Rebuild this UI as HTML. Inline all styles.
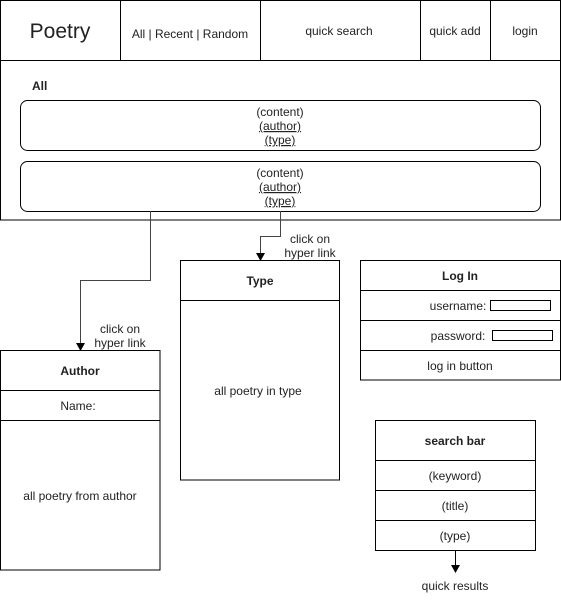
<!DOCTYPE html>
<html><head><style>body{margin:0;background:#fff}svg{display:block}text{font-family:"Liberation Sans",sans-serif;font-size:12px;fill:#222}</style></head><body>
<svg width="561" height="601" viewBox="0 0 561 601">
<g fill="none" stroke="#000" stroke-width="1">
<rect x="0.5" y="0.5" width="560" height="219.5"/>
<line x1="0" y1="60.5" x2="561" y2="60.5"/>
<line x1="120.5" y1="0" x2="120.5" y2="60"/>
<line x1="260.5" y1="0" x2="260.5" y2="60"/>
<line x1="420.5" y1="0" x2="420.5" y2="60"/>
<line x1="490.5" y1="0" x2="490.5" y2="60"/>
<rect x="20.5" y="100.5" width="520" height="50" rx="7"/>
<rect x="20.5" y="161.5" width="520" height="50" rx="7"/>
<polyline points="150.5,211 150.5,280.5 80.5,280.5 80.5,343" stroke="#444"/>
<polyline points="280.5,211 280.5,236.5 260.5,236.5 260.5,253" stroke="#444"/>
<rect x="180.5" y="260.5" width="159" height="219.5"/>
<line x1="180" y1="300.5" x2="340" y2="300.5"/>
<rect x="0.5" y="350.5" width="159.5" height="219.5"/>
<line x1="0" y1="390.5" x2="160" y2="390.5"/>
<line x1="0" y1="420.5" x2="160" y2="420.5"/>
<rect x="360.5" y="260.5" width="200" height="119.5"/>
<line x1="360" y1="290.5" x2="561" y2="290.5"/>
<line x1="360" y1="320.5" x2="561" y2="320.5"/>
<line x1="360" y1="350.5" x2="561" y2="350.5"/>
<rect x="490.5" y="300.5" width="60" height="10"/>
<rect x="492.5" y="330.5" width="60" height="10"/>
<rect x="375.5" y="420.5" width="160" height="130"/>
<line x1="375" y1="460.5" x2="536" y2="460.5"/>
<line x1="375" y1="490.5" x2="536" y2="490.5"/>
<line x1="375" y1="520.5" x2="536" y2="520.5"/>
<line x1="455.5" y1="551" x2="455.5" y2="565"/>
</g>
<g fill="#000">
<polygon points="76,343 85,343 80.5,351"/>
<polygon points="256,253 265,253 260.5,261"/>
<polygon points="451,565 460,565 455.5,573"/>
</g>
<g text-anchor="middle">
<text x="60" y="38" style="font-size:21px">Poetry</text>
<text x="190" y="38">All | Recent | Random</text>
<text x="339" y="35">quick search</text>
<text x="455" y="35">quick add</text>
<text x="525" y="35">login</text>
<text x="280" y="116">(content)</text>
<text x="280" y="130" text-decoration="underline">(author)</text>
<text x="280" y="144" text-decoration="underline">(type) </text>
<text x="280" y="177">(content)</text>
<text x="280" y="191" text-decoration="underline">(author)</text>
<text x="280" y="205" text-decoration="underline">(type) </text>
<text x="310" y="243">click on</text>
<text x="310" y="257">hyper link</text>
<text x="120" y="333">click on</text>
<text x="120" y="347">hyper link</text>
<text x="260" y="285" font-weight="bold">Type</text>
<text x="258" y="395">all poetry in type</text>
<text x="80" y="375" font-weight="bold">Author</text>
<text x="78" y="410">Name:</text>
<text x="80" y="500">all poetry from author</text>
<text x="460" y="280" font-weight="bold">Log In</text>
<text x="458" y="310">username:</text>
<text x="458" y="340">password:</text>
<text x="460" y="370">log in button</text>
<text x="455" y="445" font-weight="bold">search bar</text>
<text x="455" y="480">(keyword)</text>
<text x="455" y="510">(title)</text>
<text x="455" y="540">(type)</text>
<text x="455" y="590">quick results</text>
</g>
<text x="32" y="90" font-weight="bold">All</text>
</svg>
</body></html>
